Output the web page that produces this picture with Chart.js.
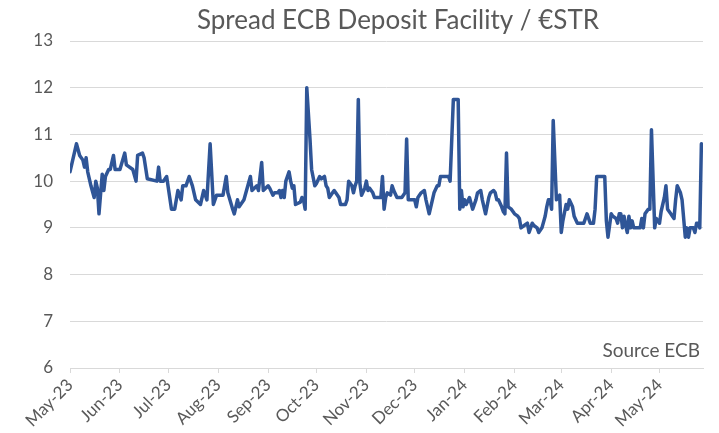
<!DOCTYPE html>
<html>
<head>
<meta charset="utf-8">
<script src="https://cdn.jsdelivr.net/npm/chart.js@4"></script>
<style>
  html, body { margin: 0; padding: 0; background: #fff; }
  #wrap { width: 719px; height: 433px; }
</style>
</head>
<body>
<div id="wrap"><canvas id="spreadChart" width="719" height="433"></canvas></div>
<script>
// --- data (basis points) ---
const dates = [
  '2023-05-05','2023-05-09','2023-05-11','2023-05-13','2023-05-14','2023-05-15','2023-05-16','2023-05-18','2023-05-20','2023-05-21','2023-05-22','2023-05-23','2023-05-25','2023-05-26','2023-05-27','2023-05-29','2023-05-30',
  '2023-06-01','2023-06-02','2023-06-05','2023-06-08','2023-06-09','2023-06-13','2023-06-15','2023-06-16','2023-06-19','2023-06-20','2023-06-22','2023-06-28','2023-06-29','2023-06-30',
  '2023-07-02','2023-07-04','2023-07-07','2023-07-09','2023-07-11','2023-07-13','2023-07-14','2023-07-16','2023-07-18','2023-07-20','2023-07-22','2023-07-25','2023-07-27','2023-07-29','2023-07-31',
  '2023-08-02','2023-08-04','2023-08-08','2023-08-10','2023-08-11','2023-08-14','2023-08-15','2023-08-17','2023-08-18','2023-08-21','2023-08-25','2023-08-26','2023-08-29','2023-08-30',
  '2023-09-01','2023-09-02','2023-09-05','2023-09-06','2023-09-08','2023-09-09','2023-09-11','2023-09-12','2023-09-13','2023-09-14','2023-09-15','2023-09-16','2023-09-18','2023-09-19','2023-09-20','2023-09-21','2023-09-22','2023-09-25','2023-09-26','2023-09-27','2023-09-28','2023-09-29',
  '2023-10-01','2023-10-02','2023-10-04','2023-10-05','2023-10-07','2023-10-08','2023-10-10','2023-10-11','2023-10-12','2023-10-13','2023-10-15','2023-10-16','2023-10-17','2023-10-19','2023-10-20','2023-10-23','2023-10-24','2023-10-25','2023-10-27','2023-10-28','2023-10-29','2023-10-30','2023-10-31',
  '2023-11-01','2023-11-02','2023-11-04','2023-11-05','2023-11-06','2023-11-07','2023-11-09','2023-11-10','2023-11-12','2023-11-14','2023-11-15','2023-11-16','2023-11-17','2023-11-18','2023-11-20','2023-11-21','2023-11-22','2023-11-24','2023-11-25','2023-11-27','2023-11-29','2023-11-30',
  '2023-12-01','2023-12-03','2023-12-05','2023-12-06','2023-12-07','2023-12-09','2023-12-11','2023-12-12','2023-12-14','2023-12-16','2023-12-17','2023-12-19','2023-12-20','2023-12-21','2023-12-26','2023-12-27','2023-12-29',
  '2024-01-01','2024-01-02','2024-01-03','2024-01-04','2024-01-05','2024-01-06','2024-01-08','2024-01-10','2024-01-12','2024-01-13','2024-01-15','2024-01-16','2024-01-18','2024-01-20','2024-01-21','2024-01-23','2024-01-24','2024-01-25','2024-01-26','2024-01-28','2024-01-29','2024-01-30','2024-01-31',
  '2024-02-01','2024-02-03','2024-02-05','2024-02-07','2024-02-08','2024-02-09','2024-02-11','2024-02-13','2024-02-14','2024-02-16','2024-02-17','2024-02-19','2024-02-20','2024-02-22','2024-02-24','2024-02-25','2024-02-26','2024-02-27','2024-02-28','2024-02-29',
  '2024-03-02','2024-03-03','2024-03-04','2024-03-05','2024-03-06','2024-03-08','2024-03-09','2024-03-10','2024-03-12','2024-03-13','2024-03-15','2024-03-16','2024-03-19','2024-03-20','2024-03-21','2024-03-23','2024-03-25','2024-03-26','2024-03-27',
  '2024-04-01','2024-04-02','2024-04-03','2024-04-05','2024-04-06','2024-04-08','2024-04-09','2024-04-10','2024-04-11','2024-04-12','2024-04-13','2024-04-14','2024-04-15','2024-04-16','2024-04-17','2024-04-18','2024-04-19','2024-04-20','2024-04-23','2024-04-24','2024-04-25','2024-04-26','2024-04-28','2024-04-29','2024-04-30',
  '2024-05-02','2024-05-03','2024-05-05','2024-05-06','2024-05-08','2024-05-09','2024-05-10','2024-05-12','2024-05-13','2024-05-14','2024-05-15','2024-05-16','2024-05-18','2024-05-19','2024-05-21','2024-05-22','2024-05-23','2024-05-24','2024-05-26','2024-05-27','2024-05-28','2024-05-29','2024-05-30','2024-05-31'
];
const spread = [
  10.2,10.8,10.55,10.45,10.3,10.5,10.2,9.9,9.65,10.0,9.85,9.3,10.15,9.8,10.1,10.25,10.25,
  10.55,10.25,10.25,10.6,10.35,10.25,10.0,10.55,10.6,10.5,10.05,10.0,10.3,10.0,
  10.0,10.1,9.4,9.4,9.8,9.6,9.9,9.9,10.1,9.9,9.6,9.5,9.8,9.6,10.8,
  9.5,9.7,9.7,10.1,9.75,9.4,9.3,9.6,9.45,9.6,10.1,9.8,9.9,9.8,
  10.4,9.8,9.9,9.85,9.7,9.75,9.75,9.8,9.65,9.8,9.65,10.0,10.2,10.0,9.85,9.9,9.5,9.55,9.65,9.6,9.4,12.0,
  10.9,10.25,9.9,9.95,10.1,10.05,10.1,9.9,9.85,9.65,9.75,9.8,9.75,9.65,9.5,9.5,9.6,10.0,9.9,9.75,9.9,10.0,11.75,
  9.95,9.7,9.85,10.0,9.8,9.85,9.75,9.65,9.65,9.65,10.1,9.4,9.65,9.75,9.7,9.9,9.8,9.65,9.65,9.65,9.75,10.9,
  9.6,9.6,9.6,9.45,9.65,9.75,9.8,9.6,9.3,9.6,9.75,9.9,9.9,10.1,10.1,10.0,11.75,
  11.75,9.4,9.8,9.45,9.6,9.5,9.65,9.4,9.6,9.75,9.8,9.6,9.3,9.65,9.75,9.8,9.75,9.6,9.6,9.45,9.35,9.3,10.6,
  9.45,9.4,9.3,9.25,9.2,9.0,9.05,9.1,8.9,9.1,9.05,9.0,8.9,9.0,9.25,9.45,9.6,9.6,9.4,11.3,
  9.6,9.65,9.7,8.9,9.15,9.5,9.4,9.6,9.45,9.25,9.1,9.1,9.1,9.2,9.3,9.1,9.1,9.4,10.1,
  10.1,9.15,8.8,9.3,9.25,9.2,9.1,9.3,9.3,9.0,9.25,9.05,8.9,9.25,9.0,9.15,9.0,9.0,9.0,9.2,9.0,9.3,9.4,9.4,11.1,
  9.0,9.2,9.1,9.35,9.65,9.9,9.4,9.3,9.25,9.2,9.6,9.9,9.75,9.6,8.8,9.0,8.8,9.0,9.0,8.9,9.1,9.1,9.0,10.8
];
const tickDates = ['2023-05-05','2023-06-05','2023-07-05','2023-08-05','2023-09-05','2023-10-05','2023-11-05',
  '2023-12-05','2024-01-05','2024-02-05','2024-03-05','2024-04-05','2024-05-05'];
const tickLabels = ['May-23','Jun-23','Jul-23','Aug-23','Sep-23','Oct-23','Nov-23',
  'Dec-23','Jan-24','Feb-24','Mar-24','Apr-24','May-24'];
const axisEnd = '2024-06-01';

const TITLE = 'Spread ECB Deposit Facility / \u20ACSTR';
const SOURCE = 'Source ECB';
const TXT = '#595959';
const GRID = '#d9d9d9';
const FONT = 'Lato, "Open Sans", sans-serif';

// days since 1 May 2023
const DAY0 = Date.UTC(2023, 4, 1);
function dayNum(s) {
  const p = s.split('-').map(Number);
  return (Date.UTC(p[0], p[1] - 1, p[2]) - DAY0) / 86400000;
}

const points = dates.map((d, i) => ({ x: dayNum(d), y: spread[i] }));

// title + source note
const textPlugin = {
  id: 'texts',
  afterDraw(chart) {
    const ctx = chart.ctx;
    ctx.save();
    ctx.fillStyle = TXT;
    ctx.font = '26px ' + FONT;
    ctx.textAlign = 'center';
    ctx.textBaseline = 'alphabetic';
    ctx.fillText(TITLE, 398, 29);
    ctx.font = '19px ' + FONT;
    ctx.textAlign = 'right';
    ctx.fillText(SOURCE, 700, 357);
    ctx.restore();
  }
};

new Chart(document.getElementById('spreadChart'), {
  type: 'line',
  data: {
    datasets: [{
      data: points,
      borderColor: '#2f5597',
      borderWidth: 3.5,
      borderJoinStyle: 'round',
      borderCapStyle: 'round',
      pointRadius: 0,
      tension: 0,
      fill: false
    }]
  },
  options: {
    responsive: false,
    animation: false,
    layout: { padding: { top: 41, right: 16, left: 0, bottom: 0 } },
    plugins: { legend: { display: false }, tooltip: { enabled: false } },
    scales: {
      x: {
        type: 'linear',
        min: dayNum(dates[0]),
        max: dayNum(axisEnd),
        afterBuildTicks(scale) { scale.ticks = tickDates.map(d => ({ value: dayNum(d) })); },
        afterFit(scale) { scale.height = 65; },
        grid: { display: true, drawOnChartArea: false, drawTicks: true, tickLength: 5, color: GRID },
        border: { display: true, color: GRID },
        ticks: {
          autoSkip: false,
          minRotation: 45, maxRotation: 45,
          padding: 2,
          color: TXT,
          font: { family: FONT, size: 17 },
          callback: (v, i) => tickLabels[i]
        }
      },
      y: {
        min: 6, max: 13,
        afterFit(scale) { scale.width = 70; },
        grid: { color: GRID, drawTicks: false },
        border: { display: false },
        ticks: { stepSize: 1, padding: 17, color: TXT, font: { family: FONT, size: 17 } }
      }
    }
  },
  plugins: [textPlugin]
});
</script>
</body>
</html>
